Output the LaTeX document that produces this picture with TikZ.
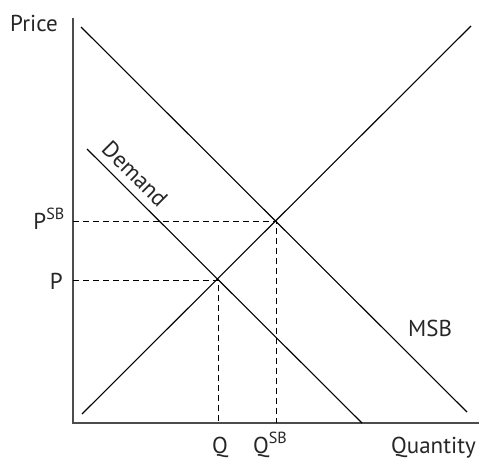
\documentclass[tikz,border=0pt]{standalone}
\usepackage{fontspec}
\setmainfont{PT Sans}
\begin{document}
\begin{tikzpicture}[x=1pt,y=-1pt,
  axis/.style={line width=1.6pt,draw=black!70},
  curve/.style={line width=1.1pt,draw=black},
  guide/.style={line width=0.9pt,draw=black,dash pattern=on 6pt off 4pt},
  lbl/.style={font=\fontsize{23}{27}\selectfont,text=black!85,inner sep=0pt}]
\useasboundingbox (0,0) rectangle (480,458);
% axes
\coordinate (O) at (73,423);
\coordinate (ytop) at (73,18);
\coordinate (xend) at (479,423);
\draw[axis] (ytop) -- (O) -- (xend);
% curves
\coordinate (msbA) at (81,27);
\coordinate (msbB) at (467,412);
\coordinate (supA) at (82,414);
\coordinate (supB) at (471,26);
\coordinate (demA) at (87,149);
\coordinate (demB) at (362,423);
\draw[curve] (msbA) -- (msbB);
\draw[curve] (supA) -- (supB);
\draw[curve] (demA) -- (demB);
% equilibria
\coordinate (E) at (218,280);
\coordinate (Ey) at (73,280);
\coordinate (Ex) at (218,423);
\coordinate (S) at (276,221);
\coordinate (Sy) at (73,221);
\coordinate (Sx) at (276,423);
\draw[guide] (Ey) -- (E) -- (Ex);
\draw[guide] (Sy) -- (S) -- (Sx);
% labels
\node[lbl,anchor=base] (price) at (34,31) {Price};
\node[lbl,anchor=base east] (pl) at (63,289) {P};
\node[lbl,anchor=base east] (psbl) at (65,229) {P\textsuperscript{SB}};
\node[lbl,anchor=base] (ql) at (220,453) {Q};
\node[lbl,anchor=base west] (qsbl) at (253,453) {Q\textsuperscript{SB}};
\node[lbl,anchor=base west] (quant) at (391,453) {Quantity};
\node[lbl,anchor=base west] (msbl) at (408,336) {MSB};
\node[lbl,rotate=-45] (deml) at (135,174) {Demand};
\end{tikzpicture}
\end{document}
